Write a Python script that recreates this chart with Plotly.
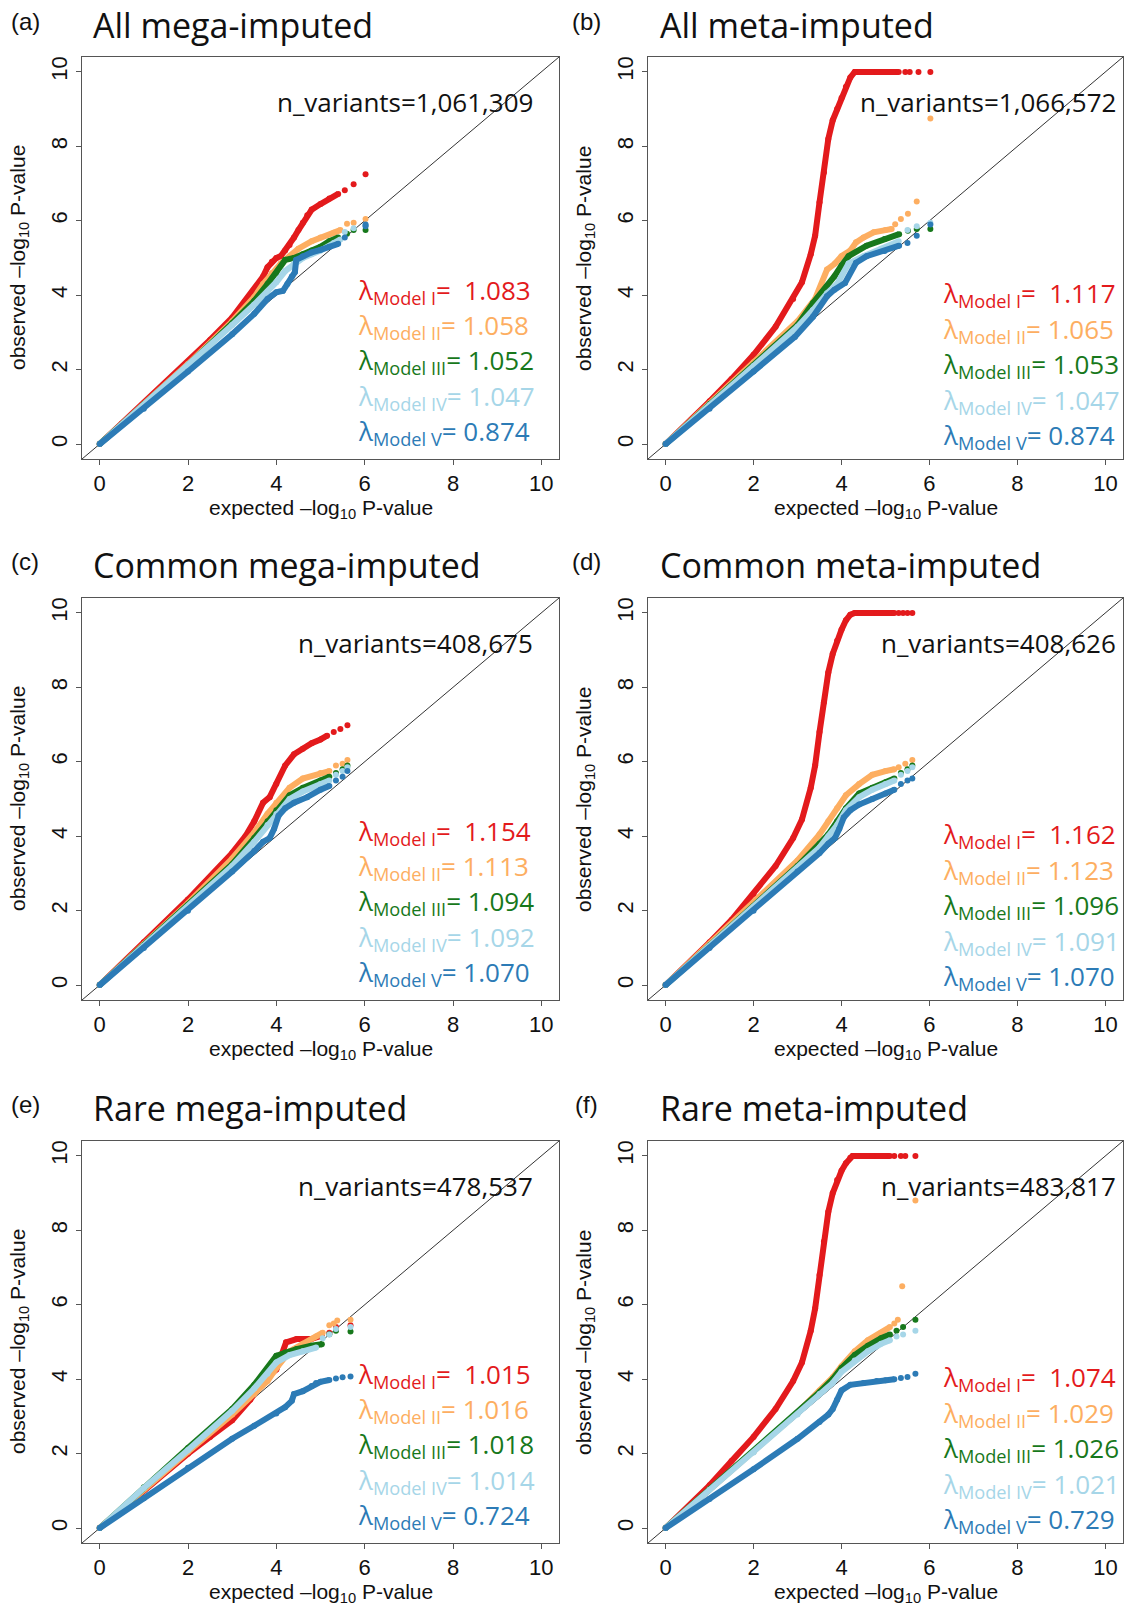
import plotly.graph_objects as go

# ---------------- data ----------------
panel_letters = ["(a)", "(b)", "(c)", "(d)", "(e)", "(f)"]
panel_titles = ["All mega-imputed", "All meta-imputed", "Common mega-imputed",
                "Common meta-imputed", "Rare mega-imputed", "Rare meta-imputed"]
n_variants = ["1,061,309", "1,066,572", "408,675", "408,626", "478,537", "483,817"]
model_names = ["Model I", "Model II", "Model III", "Model IV", "Model V"]
model_colors = ["#E31A1C", "#FDAE61", "#17781B", "#A6D6E8", "#2C7BB6"]
lambda_a = ["1.083", "1.058", "1.052", "1.047", "0.874"]
lambda_b = ["1.117", "1.065", "1.053", "1.047", "0.874"]
lambda_c = ["1.154", "1.113", "1.094", "1.092", "1.070"]
lambda_d = ["1.162", "1.123", "1.096", "1.091", "1.070"]
lambda_e = ["1.015", "1.016", "1.018", "1.014", "0.724"]
lambda_f = ["1.074", "1.029", "1.026", "1.021", "0.729"]
axis_ticks = [0, 2, 4, 6, 8, 10]

# ---- panel (a) ----
a1_x = [0, 0.5, 1, 1.5, 2, 2.5, 3, 3.3, 3.5, 3.7, 3.8, 3.9, 4.0, 4.1, 4.2, 4.3, 4.4, 4.5, 4.6, 4.7, 4.8, 5.0, 5.2, 5.4]
a1_y = [0, 0.55, 1.1, 1.65, 2.2, 2.8, 3.4, 3.85, 4.15, 4.5, 4.75, 4.9, 5.0, 5.05, 5.2, 5.35, 5.55, 5.75, 5.95, 6.15, 6.3, 6.45, 6.6, 6.72]
a1_tx = [5.55, 5.75, 6.02]
a1_ty = [6.82, 6.98, 7.25]
a2_x = [0, 1, 2, 3, 3.5, 3.7, 3.9, 4.1, 4.3, 4.5, 4.8, 5.0, 5.3, 5.45]
a2_y = [0, 1.08, 2.15, 3.3, 3.95, 4.3, 4.6, 4.85, 5.05, 5.25, 5.45, 5.55, 5.68, 5.75]
a2_tx = [5.6, 5.75, 6.02]
a2_ty = [5.92, 5.95, 6.05]
a3_x = [0, 1, 2, 3, 3.5, 3.8, 4.0, 4.2, 4.4, 4.6, 4.8, 5.0, 5.2, 5.4]
a3_y = [0, 1.07, 2.12, 3.25, 3.85, 4.3, 4.6, 4.95, 5.0, 5.1, 5.2, 5.3, 5.45, 5.55]
a3_tx = [5.6, 5.75, 6.02]
a3_ty = [5.65, 5.75, 5.75]
a4_x = [0, 1, 2, 3, 3.5, 3.8, 4.0, 4.2, 4.4, 4.6, 4.8, 5.0, 5.3, 5.45]
a4_y = [0, 1.05, 2.1, 3.2, 3.75, 4.1, 4.35, 4.65, 4.85, 5.0, 5.1, 5.2, 5.4, 5.5]
a4_tx = [5.55, 5.75, 6.02]
a4_ty = [5.7, 5.8, 5.88]
a5_x = [0, 1, 2, 3, 3.5, 3.8, 4.0, 4.15, 4.25, 4.35, 4.42, 4.45, 4.6, 4.8, 5.0, 5.2, 5.4]
a5_y = [0, 0.95, 1.95, 2.95, 3.5, 3.9, 4.08, 4.12, 4.3, 4.5, 4.62, 4.95, 5.05, 5.15, 5.22, 5.3, 5.38]
a5_tx = [5.55, 6.02, 6.02]
a5_ty = [5.55, 5.85, 5.9]

# ---- panel (b) ----
b1_x = [0, 0.5, 1, 1.5, 2, 2.5, 2.9, 3.1, 3.3, 3.4, 3.5, 3.6, 3.7, 3.8, 3.9, 4.0, 4.1, 4.2, 4.3, 4.8, 5.3]
b1_y = [0, 0.55, 1.15, 1.75, 2.4, 3.15, 3.9, 4.35, 5.1, 5.6, 6.5, 7.3, 8.2, 8.7, 9.0, 9.3, 9.6, 9.85, 10, 10, 10]
b1_tx = [5.45, 5.55, 5.75, 6.02]
b1_ty = [10, 10, 10, 10]
b2_x = [0, 1, 2, 3, 3.4, 3.67, 3.85, 4.0, 4.2, 4.33, 4.5, 4.73, 5.0, 5.14]
b2_y = [0, 1.1, 2.2, 3.3, 3.9, 4.69, 4.85, 5.05, 5.2, 5.42, 5.55, 5.69, 5.75, 5.78]
b2_tx = [5.22, 5.35, 5.51, 5.71, 6.02]
b2_ty = [5.91, 6.05, 6.19, 6.52, 8.75]
b3_x = [0, 1, 2, 3, 3.35, 3.67, 3.84, 4.0, 4.16, 4.57, 4.98, 5.31]
b3_y = [0, 1.08, 2.12, 3.2, 3.79, 4.24, 4.51, 4.8, 5.05, 5.33, 5.51, 5.64]
b3_tx = [5.51, 5.71, 6.02]
b3_ty = [5.73, 5.78, 5.78]
b4_x = [0, 1, 2, 3, 3.35, 3.67, 3.9, 4.16, 4.5, 4.9, 5.3]
b4_y = [0, 1.05, 2.1, 3.15, 3.6, 4.05, 4.3, 4.85, 5.05, 5.25, 5.45]
b4_tx = [5.5, 5.71, 6.02]
b4_ty = [5.75, 5.85, 5.95]
b5_x = [0, 1, 2, 2.94, 3.35, 3.67, 3.84, 4.08, 4.33, 4.57, 4.98, 5.31]
b5_y = [0, 0.95, 1.95, 2.88, 3.42, 3.97, 4.15, 4.33, 4.87, 5.05, 5.19, 5.33]
b5_tx = [5.5, 5.71, 6.02]
b5_ty = [5.4, 5.6, 5.9]

# ---- panel (c) ----
c1_x = [0, 1, 2, 3, 3.3, 3.5, 3.7, 3.85, 4.0, 4.2, 4.4, 4.6, 4.8, 5.0, 5.15]
c1_y = [0, 1.15, 2.3, 3.55, 4.0, 4.4, 4.9, 5.05, 5.4, 5.9, 6.2, 6.35, 6.5, 6.6, 6.7]
c1_tx = [5.3, 5.45, 5.61]
c1_ty = [6.8, 6.88, 6.98]
c2_x = [0, 1, 2, 3, 3.5, 3.8, 4.0, 4.3, 4.6, 5.0, 5.2]
c2_y = [0, 1.1, 2.2, 3.4, 4.1, 4.6, 4.9, 5.3, 5.55, 5.7, 5.75]
c2_tx = [5.35, 5.5, 5.61]
c2_ty = [5.9, 5.95, 6.05]
c3_x = [0, 1, 2, 3, 3.5, 3.8, 4.0, 4.3, 4.6, 5.0, 5.2]
c3_y = [0, 1.08, 2.15, 3.25, 3.95, 4.4, 4.7, 5.1, 5.3, 5.5, 5.6]
c3_tx = [5.35, 5.5, 5.61]
c3_ty = [5.7, 5.8, 5.9]
c4_x = [0, 1, 2, 3, 3.5, 3.8, 4.0, 4.3, 4.6, 5.0, 5.2]
c4_y = [0, 1.06, 2.1, 3.2, 3.85, 4.3, 4.6, 5.0, 5.2, 5.4, 5.5]
c4_tx = [5.35, 5.5, 5.61]
c4_ty = [5.65, 5.75, 5.85]
c5_x = [0, 1, 2, 3, 3.5, 3.7, 3.85, 3.95, 4.05, 4.2, 4.4, 4.7, 5.0, 5.2]
c5_y = [0, 1.0, 2.0, 3.05, 3.6, 3.85, 3.95, 4.2, 4.55, 4.75, 4.9, 5.05, 5.25, 5.35]
c5_tx = [5.35, 5.5, 5.61]
c5_ty = [5.5, 5.6, 5.75]

# ---- panel (d) ----
d1_x = [0, 0.5, 1, 1.5, 2, 2.5, 2.9, 3.1, 3.3, 3.4, 3.5, 3.6, 3.7, 3.8, 3.9, 4.0, 4.1, 4.2, 4.3, 4.8, 5.2]
d1_y = [0, 0.55, 1.15, 1.75, 2.45, 3.2, 3.95, 4.45, 5.3, 5.9, 6.8, 7.6, 8.4, 8.9, 9.25, 9.55, 9.8, 9.95, 10, 10, 10]
d1_tx = [5.3, 5.4, 5.5, 5.61]
d1_ty = [10, 10, 10, 10]
d2_x = [0, 1, 2, 3, 3.5, 3.7, 3.9, 4.1, 4.4, 4.7, 5.0, 5.2]
d2_y = [0, 1.1, 2.2, 3.35, 4.05, 4.4, 4.75, 5.1, 5.4, 5.65, 5.75, 5.8]
d2_tx = [5.3, 5.45, 5.61]
d2_ty = [5.85, 5.95, 6.05]
d3_x = [0, 1, 2, 3, 3.5, 3.7, 3.9, 4.1, 4.4, 4.7, 5.0, 5.2]
d3_y = [0, 1.07, 2.12, 3.2, 3.8, 4.05, 4.4, 4.75, 5.15, 5.3, 5.45, 5.55]
d3_tx = [5.35, 5.5, 5.61]
d3_ty = [5.7, 5.8, 5.9]
d4_x = [0, 1, 2, 3, 3.5, 3.7, 3.9, 4.1, 4.4, 4.7, 5.0, 5.2]
d4_y = [0, 1.05, 2.1, 3.15, 3.7, 4.0, 4.3, 4.7, 5.05, 5.25, 5.4, 5.5]
d4_tx = [5.35, 5.5, 5.61]
d4_ty = [5.65, 5.75, 5.85]
d5_x = [0, 1, 2, 3, 3.5, 3.7, 3.85, 3.95, 4.05, 4.2, 4.4, 4.7, 5.0, 5.2]
d5_y = [0, 1.0, 2.0, 3.05, 3.55, 3.8, 3.95, 4.2, 4.5, 4.7, 4.85, 5.0, 5.15, 5.25]
d5_tx = [5.35, 5.5, 5.61]
d5_ty = [5.4, 5.5, 5.55]

# ---- panel (e) ----
e1_x = [0, 1, 2, 2.5, 3.0, 3.41, 3.73, 4.0, 4.22, 4.46, 4.79, 5.03]
e1_y = [0, 1.02, 2.0, 2.45, 2.9, 3.45, 3.99, 4.26, 4.99, 5.08, 5.08, 5.17]
e1_tx = [5.2, 5.35, 5.68]
e1_ty = [5.25, 5.4, 5.45]
e2_x = [0, 1, 2, 3, 3.5, 3.8, 4.0, 4.3, 4.6, 4.9, 5.05]
e2_y = [0, 1.05, 2.05, 3.05, 3.6, 3.95, 4.3, 4.75, 4.95, 5.15, 5.25]
e2_tx = [5.2, 5.3, 5.38, 5.68]
e2_ty = [5.45, 5.5, 5.58, 5.6]
e3_x = [0, 1, 2, 3, 3.5, 4.0, 4.2, 4.46, 4.79, 5.03]
e3_y = [0, 1.1, 2.15, 3.2, 3.85, 4.63, 4.72, 4.81, 4.9, 4.94]
e3_tx = [5.2, 5.35, 5.68]
e3_ty = [5.21, 5.3, 5.28]
e4_x = [0, 1, 2, 3, 3.5, 3.8, 4.0, 4.3, 4.6, 4.9]
e4_y = [0, 1.08, 2.1, 3.15, 3.75, 4.15, 4.45, 4.65, 4.75, 4.85]
e4_tx = [5.05, 5.2, 5.35, 5.68]
e4_ty = [5.1, 5.2, 5.35, 5.4]
e5_x = [0, 1, 2, 3, 3.5, 4.0, 4.2, 4.35, 4.4, 4.6, 4.8, 4.9, 5.0, 5.2]
e5_y = [0, 0.8, 1.62, 2.4, 2.75, 3.08, 3.25, 3.42, 3.6, 3.68, 3.82, 3.9, 3.93, 3.98]
e5_tx = [5.35, 5.5, 5.68]
e5_ty = [4.02, 4.05, 4.07]

# ---- panel (f) ----
f1_x = [0, 0.5, 1, 1.5, 2, 2.5, 2.9, 3.1, 3.3, 3.4, 3.5, 3.6, 3.7, 3.8, 3.9, 4.0, 4.1, 4.2, 4.25, 4.7, 5.1]
f1_y = [0, 0.55, 1.15, 1.8, 2.45, 3.2, 3.95, 4.45, 5.3, 5.9, 6.8, 7.7, 8.5, 9.0, 9.35, 9.6, 9.8, 9.95, 10, 10, 10]
f1_tx = [5.2, 5.35, 5.45, 5.68]
f1_ty = [10, 10, 10, 10]
f2_x = [0, 1, 2, 3, 3.5, 3.8, 4.0, 4.3, 4.6, 4.9, 5.1]
f2_y = [0, 1.05, 2.05, 3.1, 3.7, 4.05, 4.35, 4.75, 5.05, 5.25, 5.4]
f2_tx = [5.2, 5.28, 5.38, 5.68]
f2_ty = [5.5, 5.6, 6.5, 8.8]
f3_x = [0, 1, 2, 3, 3.5, 3.8, 4.0, 4.3, 4.6, 4.9, 5.1]
f3_y = [0, 1.05, 2.05, 3.1, 3.65, 4.0, 4.3, 4.65, 4.9, 5.1, 5.2]
f3_tx = [5.25, 5.4, 5.68]
f3_ty = [5.3, 5.4, 5.6]
f4_x = [0, 1, 2, 3, 3.5, 3.8, 4.0, 4.3, 4.6, 4.9, 5.1]
f4_y = [0, 1.03, 2.03, 3.05, 3.6, 3.9, 4.2, 4.5, 4.75, 4.95, 5.05]
f4_tx = [5.25, 5.4, 5.68]
f4_ty = [5.15, 5.2, 5.3]
f5_x = [0, 1, 2, 3, 3.5, 3.7, 3.8, 3.9, 4.0, 4.2, 4.5, 4.8, 5.0, 5.2]
f5_y = [0, 0.78, 1.58, 2.4, 2.85, 3.05, 3.2, 3.45, 3.7, 3.85, 3.9, 3.95, 3.97, 4.0]
f5_tx = [5.35, 5.5, 5.68]
f5_ty = [4.03, 4.06, 4.15]

panels = [
    [(a1_x, a1_y, a1_tx, a1_ty), (a2_x, a2_y, a2_tx, a2_ty), (a3_x, a3_y, a3_tx, a3_ty),
     (a4_x, a4_y, a4_tx, a4_ty), (a5_x, a5_y, a5_tx, a5_ty)],
    [(b1_x, b1_y, b1_tx, b1_ty), (b2_x, b2_y, b2_tx, b2_ty), (b3_x, b3_y, b3_tx, b3_ty),
     (b4_x, b4_y, b4_tx, b4_ty), (b5_x, b5_y, b5_tx, b5_ty)],
    [(c1_x, c1_y, c1_tx, c1_ty), (c2_x, c2_y, c2_tx, c2_ty), (c3_x, c3_y, c3_tx, c3_ty),
     (c4_x, c4_y, c4_tx, c4_ty), (c5_x, c5_y, c5_tx, c5_ty)],
    [(d1_x, d1_y, d1_tx, d1_ty), (d2_x, d2_y, d2_tx, d2_ty), (d3_x, d3_y, d3_tx, d3_ty),
     (d4_x, d4_y, d4_tx, d4_ty), (d5_x, d5_y, d5_tx, d5_ty)],
    [(e1_x, e1_y, e1_tx, e1_ty), (e2_x, e2_y, e2_tx, e2_ty), (e3_x, e3_y, e3_tx, e3_ty),
     (e4_x, e4_y, e4_tx, e4_ty), (e5_x, e5_y, e5_tx, e5_ty)],
    [(f1_x, f1_y, f1_tx, f1_ty), (f2_x, f2_y, f2_tx, f2_ty), (f3_x, f3_y, f3_tx, f3_ty),
     (f4_x, f4_y, f4_tx, f4_ty), (f5_x, f5_y, f5_tx, f5_ty)],
]
lambdas = [lambda_a, lambda_b, lambda_c, lambda_d, lambda_e, lambda_f]

# ---------------- layout geometry ----------------
W, H = 1127, 1608
col_px = [(82, 559), (648, 1123)]
row_px = [(57, 459), (598, 1000), (1141, 1543)]
AX_RANGE = [-0.4, 10.4]

CAL = "Open Sans, Noto Sans, sans-serif"
ARIAL = "Liberation Sans, Arial, sans-serif"

def px(x):
    return x / W

def py(y):
    return 1 - y / H

fig = go.Figure()
annotations = []
shapes = []
layout_axes = {}

for i in range(6):
    r, c = divmod(i, 2)
    xl, xr = col_px[c]
    yt, yb = row_px[r]
    xa = "x" if i == 0 else f"x{i+1}"
    ya = "y" if i == 0 else f"y{i+1}"
    xkey = "xaxis" if i == 0 else f"xaxis{i+1}"
    ykey = "yaxis" if i == 0 else f"yaxis{i+1}"
    common = dict(range=AX_RANGE, tickvals=axis_ticks, showgrid=False, zeroline=False,
                  showline=True, mirror=True, linecolor="#555555", linewidth=1,
                  ticks="outside", ticklen=5, tickcolor="#555555",
                  tickfont=dict(family=ARIAL, size=22, color="#111111"))
    layout_axes[xkey] = dict(domain=[px(xl), px(xr)], anchor=ya, **common)
    layout_axes[ykey] = dict(domain=[py(yb), py(yt)], anchor=xa, tickangle=-90, **common)

    # diagonal
    shapes.append(dict(type="line", xref=xa, yref=ya, x0=AX_RANGE[0], y0=AX_RANGE[0],
                       x1=AX_RANGE[1], y1=AX_RANGE[1], line=dict(color="#333333", width=1),
                       layer="below"))

    for m in range(5):
        bx, by, tx, ty = panels[i][m]
        col = model_colors[m]
        fig.add_trace(go.Scatter(x=bx, y=by, mode="lines+markers", xaxis=xa, yaxis=ya,
                                 line=dict(color=col, width=6), marker=dict(color=col, size=6),
                                 showlegend=False, hoverinfo="skip"))
        fig.add_trace(go.Scatter(x=tx, y=ty, mode="markers", xaxis=xa, yaxis=ya,
                                 marker=dict(color=col, size=6),
                                 showlegend=False, hoverinfo="skip"))

    # panel letter and title
    letter_x = 25 if c == 0 else 586
    title_x = 91 if c == 0 else 658
    top = [0, 540, 1083][r]
    annotations.append(dict(text=panel_letters[i], xref="paper", yref="paper",
                            x=px(letter_x), y=py(top + 21), xanchor="center", yanchor="middle",
                            showarrow=False, font=dict(family=ARIAL, size=24, color="#111111")))
    annotations.append(dict(text=panel_titles[i], xref="paper", yref="paper",
                            x=px(title_x), y=py(top + 25), xanchor="left", yanchor="middle",
                            showarrow=False, font=dict(family=CAL, size=34, color="#111111")))
    # axis titles
    annotations.append(dict(text="expected \u2013log<sub>10</sub> P-value", xref="paper", yref="paper",
                            x=px((xl + xr) / 2), y=py(yb + 50), xanchor="center", yanchor="middle",
                            showarrow=False, font=dict(family=ARIAL, size=21, color="#111111")))
    annotations.append(dict(text="observed \u2013log<sub>10</sub> P-value", xref="paper", yref="paper",
                            x=px(xl - 63), y=py((yt + yb) / 2), xanchor="center", yanchor="middle",
                            textangle=-90,
                            showarrow=False, font=dict(family=ARIAL, size=21, color="#111111")))
    # n_variants
    nv_right = 9.85 if c == 0 else 10.28
    annotations.append(dict(text="n_variants=" + n_variants[i], xref=xa, yref=ya,
                            x=nv_right, y=9.18, xanchor="right", yanchor="middle",
                            showarrow=False, font=dict(family=CAL, size=26, color="#111111")))
    # lambda labels
    lam_left = 5.8 if c == 0 else 6.26
    lam_shift = 0.08 if c == 0 else 0.18
    lam_y = [4.2, 3.25, 2.3, 1.35, 0.4]
    for m in range(5):
        gap = "\u00a0\u00a0" if m == 0 else "\u00a0"
        annotations.append(dict(text="\u03bb<sub>" + model_names[m] + "</sub>=" + gap + lambdas[i][m],
                                xref=xa, yref=ya, x=lam_left, y=lam_y[m] - lam_shift,
                                xanchor="left", yanchor="middle", showarrow=False,
                                font=dict(family=CAL, size=26, color=model_colors[m])))

fig.update_layout(width=W, height=H, margin=dict(l=0, r=0, t=0, b=0),
                  paper_bgcolor="white", plot_bgcolor="white",
                  annotations=annotations, shapes=shapes, **layout_axes)

fig.write_html("out.html", config={"displayModeBar": False},
               post_script="document.body.style.margin='0';document.body.style.overflow='hidden';")
